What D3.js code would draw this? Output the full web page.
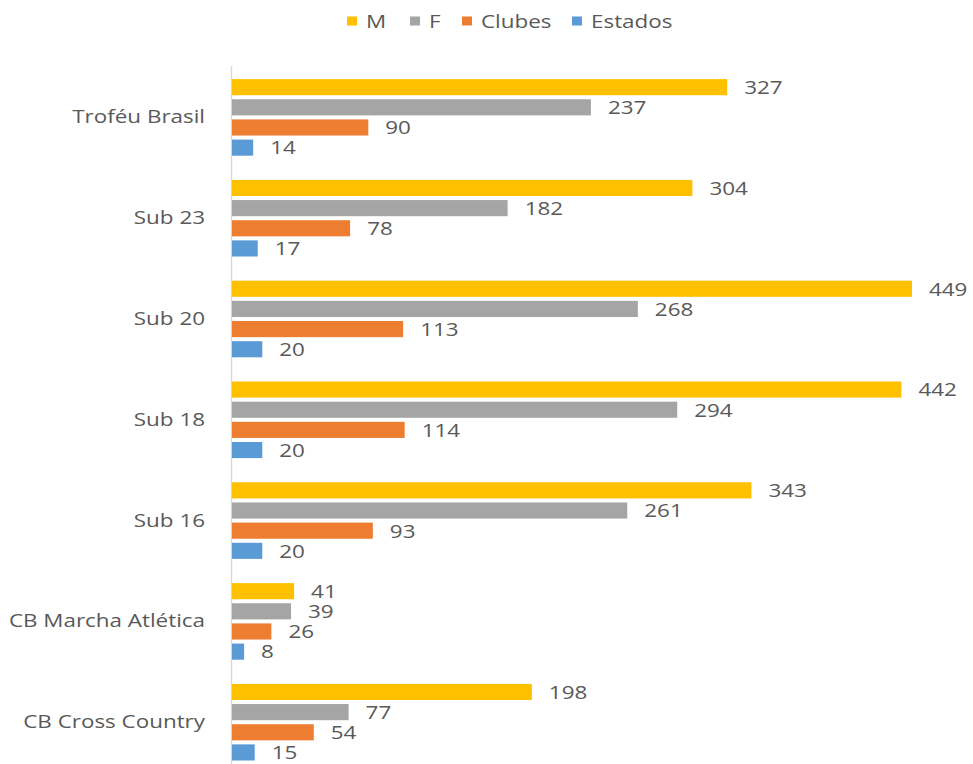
<!DOCTYPE html>
<html>
<head>
<meta charset="utf-8">
<script src="https://cdn.jsdelivr.net/npm/d3@7"></script>
<style>
  html, body { margin: 0; padding: 0; background: #fff; }
  svg { display: block; }
  text { font-family: "Open Sans", "Noto Sans", sans-serif; fill: #595959; }
</style>
</head>
<body>
<svg id="chart" width="973" height="764"></svg>
<script>
const categories = ["Troféu Brasil", "Sub 23", "Sub 20", "Sub 18", "Sub 16", "CB Marcha Atlética", "CB Cross Country"];
const seriesNames = ["M", "F", "Clubes", "Estados"];
const valuesM = [327, 304, 449, 442, 343, 41, 198];
const valuesF = [237, 182, 268, 294, 261, 39, 77];
const valuesClubes = [90, 78, 113, 114, 93, 26, 54];
const valuesEstados = [14, 17, 20, 20, 20, 8, 15];
const colors = ["#FFC000", "#A5A5A5", "#ED7D31", "#5B9BD5"];

const seriesValues = [valuesM, valuesF, valuesClubes, valuesEstados];
const rows = categories.map((c, i) => ({
  cat: c,
  vals: seriesNames.map((s, j) => ({ series: s, value: seriesValues[j][i], color: colors[j] }))
}));

const SX = 1.18; // horizontal stretch of the reference's text

const svg = d3.select("#chart");

const x = d3.scaleLinear().domain([0, 450]).range([232, 913.5]);
const y = d3.scaleBand().domain(categories).range([67, 772.6]).paddingInner(0.2).paddingOuter(0.1);
const yInner = d3.scaleBand().domain(seriesNames).range([0, y.bandwidth()]).paddingInner(0.2).paddingOuter(0.1);

// axis line
svg.append("line")
  .attr("x1", x(0) - 0.5).attr("x2", x(0) - 0.5)
  .attr("y1", 66).attr("y2", 764)
  .attr("stroke", "#D9D9D9").attr("stroke-width", 1.5);

const g = svg.append("g").selectAll("g").data(rows).join("g")
  .attr("transform", d => `translate(0,${y(d.cat)})`);

g.selectAll("rect").data(d => d.vals).join("rect")
  .attr("x", x(0))
  .attr("y", d => yInner(d.series))
  .attr("width", d => x(d.value) - x(0))
  .attr("height", yInner.bandwidth())
  .attr("fill", d => d.color);

g.selectAll("text.val").data(d => d.vals).join("text")
  .attr("class", "val")
  .attr("transform", d => `translate(${x(d.value) + 17},${yInner(d.series) + yInner.bandwidth() / 2}) scale(${SX},1)`)
  .attr("dy", "0.36em")
  .attr("font-size", 19)
  .text(d => d.value);

// category axis labels
const yAxis = d3.axisLeft(y).tickSize(0).tickPadding(0);
const ax = svg.append("g").attr("transform", `translate(${x(0)},0)`).call(yAxis);
ax.select(".domain").remove();
ax.selectAll("text")
  .attr("x", null)
  .attr("transform", `translate(-27,0) scale(${SX},1)`)
  .attr("font-size", 19)
  .style("font-family", "'Open Sans', sans-serif")
  .attr("fill", "#595959");

// legend
const legendX = [347, 410, 462, 572];
const leg = svg.append("g").selectAll("g").data(seriesNames).join("g")
  .attr("transform", (d, i) => `translate(${legendX[i]},21)`);
leg.append("rect").attr("x", 0).attr("y", -4.5).attr("width", 10).attr("height", 9)
  .attr("fill", (d, i) => colors[i]);
leg.append("text")
  .attr("transform", `translate(19,0) scale(${SX},1)`)
  .attr("dy", "0.36em")
  .attr("font-size", 19).text(d => d);
</script>
</body>
</html>
